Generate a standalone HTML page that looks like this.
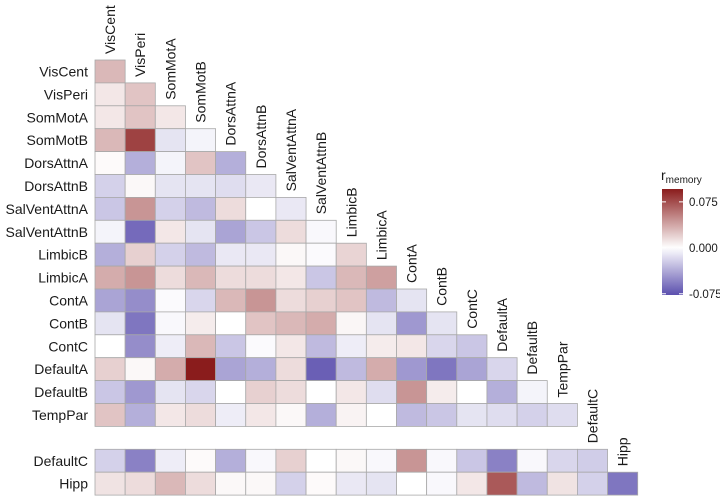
<!DOCTYPE html>
<html><head><meta charset="utf-8">
<style>
html,body{margin:0;padding:0;background:#fff;}
svg text{font-family:"Liberation Sans",sans-serif;fill:#1a1a1a;}
</style></head>
<body>
<svg id="chart" width="720" height="496" viewBox="0 0 720 496" xmlns="http://www.w3.org/2000/svg"></svg>
<script>
const categories = ["VisCent","VisPeri","SomMotA","SomMotB","DorsAttnA","DorsAttnB","SalVentAttnA","SalVentAttnB","LimbicB","LimbicA","ContA","ContB","ContC","DefaultA","DefaultB","TempPar","DefaultC","Hipp"];
const rowSlots = [0,1,2,3,4,5,6,7,8,9,10,11,12,13,14,15,17,18];
const values = [
 [0.030],
 [0.010,0.025],
 [0.010,0.025,0.010],
 [0.030,0.080,-0.012,-0.005],
 [0.002,-0.035,-0.005,0.025,-0.035],
 [-0.020,0.003,-0.012,-0.012,-0.015,-0.010],
 [-0.025,0.045,-0.020,-0.030,0.015,0.000,-0.010],
 [-0.005,-0.065,0.010,-0.012,-0.040,-0.025,0.015,-0.003],
 [-0.035,0.020,-0.020,-0.030,-0.010,-0.010,0.003,-0.002,0.018],
 [0.035,0.045,0.015,0.030,0.015,0.015,0.010,-0.025,0.030,0.040],
 [-0.040,-0.050,-0.002,-0.018,0.030,0.045,0.015,0.020,0.025,-0.030,-0.012],
 [-0.012,-0.060,-0.003,0.008,0.000,0.025,0.030,0.035,0.004,-0.012,-0.045,-0.012],
 [0.000,-0.050,-0.008,0.030,-0.025,-0.002,0.010,-0.030,-0.008,0.008,0.010,-0.018,-0.025],
 [0.020,0.003,0.035,0.096,-0.040,-0.035,0.015,-0.070,-0.030,0.035,-0.045,-0.060,-0.040,-0.018],
 [-0.025,-0.045,-0.012,-0.018,0.000,0.020,0.015,0.000,0.010,-0.015,0.045,0.008,0.000,-0.035,-0.005],
 [0.025,-0.035,0.010,0.015,-0.008,0.010,0.003,-0.035,0.005,0.000,-0.030,-0.025,-0.012,-0.015,-0.020,-0.015],
 [-0.020,-0.055,-0.008,0.002,-0.035,-0.003,0.020,0.000,0.003,-0.003,0.045,-0.003,-0.025,-0.055,-0.003,-0.018,-0.022],
 [0.012,0.015,0.030,0.015,0.003,0.003,-0.020,0.002,-0.010,-0.012,0.000,-0.003,0.010,0.070,-0.030,0.012,-0.020,-0.060]
];
const legendTicks = [0.075, 0.000, -0.075];
const legendTickLabels = ["0.075","0.000","-0.075"];
const vmin = -0.077, vmax = 0.096;

const svg = document.getElementById('chart');
const NS = "http://www.w3.org/2000/svg";
const x0 = 95, cw = 30.15, y0 = 60, ch = 22.9;
const xPos = c => x0 + c * cw;
const yPos = s => y0 + s * ch;
const neg = [91,79,174], pos = [138,28,28];
function color(v){
  let t, c;
  if (v >= 0){ t = Math.min(1, v / vmax); c = pos; }
  else { t = Math.min(1, v / vmin); c = neg; }
  const r = Math.round(255 + (c[0]-255)*t), g = Math.round(255 + (c[1]-255)*t), b = Math.round(255 + (c[2]-255)*t);
  return `rgb(${r},${g},${b})`;
}
function mk(tag, attrs){ const e = document.createElementNS(NS, tag); for (const k in attrs) e.setAttribute(k, attrs[k]); svg.appendChild(e); return e; }

values.forEach((row, i) => {
  const s = rowSlots[i];
  row.forEach((v, j) => {
    const r = mk('rect', {x: xPos(j), y: yPos(s), width: cw, height: ch, fill: color(v), stroke: '#a8a8a8', 'stroke-width': 0.8});
    
    
  });
  const t = mk('text', {x: 88, y: yPos(s) + ch/2 + 5, 'text-anchor': 'end', 'font-size': 14});
  t.textContent = categories[i];
  
  
});
categories.forEach((name, j) => {
  const s = rowSlots[j];
  const cx = xPos(j) + cw/2 + 5, by = yPos(s) - 6;
  const t = mk('text', {x: cx, y: by, 'font-size': 14, transform: `rotate(-90 ${cx} ${by})`});
  t.textContent = name;
  
  
});

// legend
const lx = 662, ly = 189, lw = 21, lh = 106;
const defs = mk('defs', {});
const grad = document.createElementNS(NS, 'linearGradient');
grad.setAttribute('id', 'lg'); grad.setAttribute('x1', 0); grad.setAttribute('y1', 0); grad.setAttribute('x2', 0); grad.setAttribute('y2', 1);
defs.appendChild(grad);
for (let k = 0; k <= 20; k++){
  const v = vmax + (vmin - vmax) * k / 20;
  const st = document.createElementNS(NS, 'stop');
  st.setAttribute('offset', k/20); st.setAttribute('stop-color', color(v));
  grad.appendChild(st);
}
const lyPos = v => ly + (vmax - v) / (vmax - vmin) * lh;
const bar = mk('rect', {x: lx, y: ly, width: lw, height: lh, fill: 'url(#lg)'});


legendTicks.forEach((v, k) => {
  const yy = lyPos(v);
  mk('line', {x1: lx, x2: lx+4, y1: yy, y2: yy, stroke: '#fff', 'stroke-width': 1});
  mk('line', {x1: lx+lw-4, x2: lx+lw, y1: yy, y2: yy, stroke: '#fff', 'stroke-width': 1});
  const t = mk('text', {x: lx + lw + 6, y: yy + 4, 'font-size': 11.5, fill: '#333'});
  t.textContent = legendTickLabels[k];
  
  
});
const title = mk('text', {x: 661, y: 180, 'font-size': 14});
title.innerHTML = 'r<tspan font-size="10" dy="3">memory</tspan>';


</script>
</body></html>
